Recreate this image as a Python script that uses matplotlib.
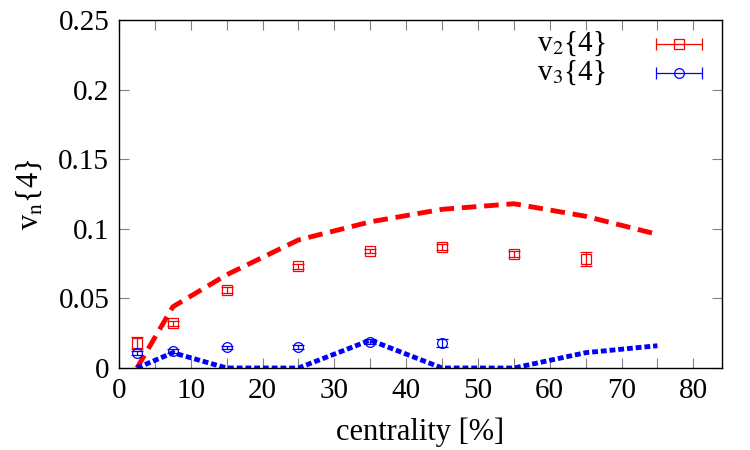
import matplotlib.pyplot as plt
import numpy as np

plt.rcParams['font.family'] = ['Liberation Serif', 'DejaVu Serif']
plt.rcParams['mathtext.fontset'] = 'stix'

# 数据点 (centrality, v2{4}, v3{4})
cent_v2 = [2.5, 7.5, 15, 25, 35, 45, 55, 65]
v2 = [0.018, 0.032, 0.056, 0.073, 0.084, 0.087, 0.082, 0.078]
v2_err = [0.004, 0.002, 0.002, 0.002, 0.0015, 0.002, 0.002, 0.005]

cent_v3 = [2.5, 7.5, 15, 25, 35, 45]
v3 = [0.011, 0.012, 0.015, 0.015, 0.019, 0.018]
v3_err = [0.0015, 0.0015, 0.001, 0.0015, 0.0015, 0.003]

# 理论曲线
cent_line = [2.5, 7.5, 15, 25, 35, 45, 55, 65, 75]
v2_line = [0.0, 0.044, 0.067, 0.092, 0.105, 0.114, 0.118, 0.109, 0.096]
v3_line = [0.0, 0.011, 0.0, 0.0, 0.020, 0.0, 0.0, 0.011, 0.016]

labels = [r'v$_2${4}', r'v$_3${4}']

fig = plt.figure(figsize=(7.5, 4.5), dpi=100)
ax = fig.add_axes([0.1587, 0.1822, 0.804, 0.7734])

ax.plot(cent_line, v2_line, color='red', linestyle=(0, (3, 1.6)), linewidth=3.5)
ax.plot(cent_line, v3_line, color='blue', linestyle=(0, (1.2, 0.6)), linewidth=3.5)

style = dict(mfc='none', ms=7, mew=0.9, elinewidth=0.9, capsize=4, capthick=0.9)
ax.errorbar(cent_v2, v2, yerr=v2_err, fmt='s', color='red', **style)
ax.errorbar(cent_v3, v3, yerr=v3_err, fmt='o', color='blue', **style)

# gnuplot 风格的图例: 文字在左, 横向误差棒样本在右
for lab, mk, c, yy in zip(labels, ['s', 'o'], ['red', 'blue'], [0.931, 0.848]):
    ax.text(0.806, yy, lab, transform=ax.transAxes, ha='right', va='center',
            fontsize=21)
    ax.errorbar([0.929], [yy], xerr=[0.038], fmt=mk, color=c,
                transform=ax.transAxes, clip_on=False, **style)

ax.set_xlim(0, 84)
ax.set_ylim(0, 0.25)
ax.set_xticks(np.arange(0, 81, 10))
ax.set_xticks(np.arange(0, 81, 5), minor=True)
ax.set_yticks([0, 0.05, 0.1, 0.15, 0.2, 0.25])
ax.set_yticklabels(['0', '0.05', '0.1', '0.15', '0.2', '0.25'])
ax.tick_params(direction='in', length=7, width=0.8, color='gray',
               labelsize=21, top=True, right=True, pad=7)
ax.tick_params(which='minor', direction='in', length=7, width=0.8,
               color='gray', top=True)
for s in ax.spines.values():
    s.set_linewidth(1.0)
    s.set_color('black')

ax.set_xlabel('centrality [%]', fontsize=22, labelpad=10)
ax.set_ylabel(r'v$_{\rm n}${4}', fontsize=22, labelpad=10)

plt.savefig('out.png', dpi=100)
